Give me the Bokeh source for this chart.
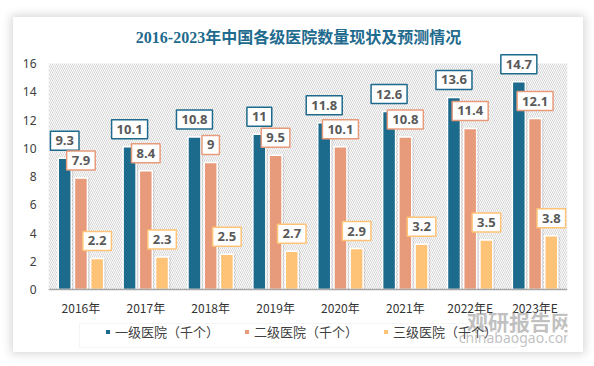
from bokeh.plotting import figure
from bokeh.layouts import column, row
from bokeh.models import (ColumnDataSource, FactorRange, Range1d, FixedTicker, Legend,
                          LegendItem, BoxAnnotation, Label, Span, Spacer)
from bokeh.transform import dodge
from bokeh.core.properties import value
from bokeh.embed import file_html
from bokeh.resources import INLINE

years = ["2016年", "2017年", "2018年", "2019年", "2020年", "2021年", "2022年E", "2023年E"]
lvl1 = [9.3, 10.1, 10.8, 11, 11.8, 12.6, 13.6, 14.7]
lvl2 = [7.9, 8.4, 9, 9.5, 10.1, 10.8, 11.4, 12.1]
lvl3 = [2.2, 2.3, 2.5, 2.7, 2.9, 3.2, 3.5, 3.8]
series_names = ["一级医院（千个）", "二级医院（千个）", "三级医院（千个）"]
colors = ["#1C6A8C", "#E79B7B", "#FFC377"]
title_text = "2016-2023年中国各级医院数量现状及预测情况"
y_ticks = [0, 2, 4, 6, 8, 10, 12, 14, 16]

src = ColumnDataSource(dict(
    year=years, l1=lvl1, l2=lvl2, l3=lvl3,
    t1=[f"{v:g}" for v in lvl1], t2=[f"{v:g}" for v in lvl2], t3=[f"{v:g}" for v in lvl3],
))

# frame covers the whole card height; y=0 sits 63px above the card bottom
p = figure(x_range=FactorRange(factors=years, range_padding=0),
           y_range=Range1d(-4.460, 19.257),
           frame_width=519, frame_height=335, x_axis_location=None,
           min_border_left=35, min_border_right=16, min_border_top=0, min_border_bottom=0,
           output_backend="svg", toolbar_location=None, tools="")
p.styles = {"box-shadow": "0 0 9px 2px rgba(0,0,0,0.16)"}
p.outline_line_color = None
p.background_fill_color = "white"
p.border_fill_color = "white"
p.xgrid.visible = False
p.ygrid.visible = False

hatch = BoxAnnotation(bottom=0, top=16, fill_alpha=0, line_alpha=0, hatch_pattern="\\",
                      hatch_color="#d4d4d4", hatch_scale=4, hatch_weight=1, level="underlay")
p.add_layout(hatch)

offs = [-0.25, 0.0, 0.25]
cols = ["l1", "l2", "l3"]
tcols = ["t1", "t2", "t3"]
renderers = []
for off, c, col in zip(offs, cols, colors):
    p.vbar(x=dodge("year", off + 0.03, range=p.x_range), top=c, width=0.2, source=src,
           fill_color="#000000", fill_alpha=0.10, line_color=None)
    r = p.vbar(x=dodge("year", off, range=p.x_range), top=c, width=0.2, source=src,
               fill_color=col, line_color="white", line_width=1.5)
    renderers.append(r)

p.add_layout(Span(location=0, dimension="width", line_color="#a6a6a6", line_width=1.5))

for off, c, t, col in zip(offs, cols, tcols, colors):
    p.text(x=dodge("year", off, range=p.x_range), y=c, text=t, source=src,
           text_font=value("Open Sans"), text_font_style="bold", text_font_size="13px",
           text_color="#595959", text_align="center", text_baseline="bottom",
           y_offset=-8, background_fill_color="white", border_line_color=col,
           border_line_width=1.5, padding=5)

# category labels under the baseline
p.text(x="year", y=0, text="year", source=src, text_font=value("Noto Sans CJK SC"),
       text_font_size="12px", text_color="#333333", text_align="center",
       text_baseline="middle", y_offset=18)

p.yaxis.ticker = FixedTicker(ticks=y_ticks)
p.yaxis.axis_line_color = None
p.yaxis.major_tick_line_color = None
p.yaxis.minor_tick_line_color = None
p.yaxis.major_tick_out = 0
p.yaxis.major_tick_in = 0
p.yaxis.major_label_text_font = "Noto Sans"
p.yaxis.major_label_text_font_size = "12px"
p.yaxis.major_label_text_color = "#404040"
p.yaxis.major_label_standoff = 12

title = Label(x=250, y=315, x_units="screen", y_units="screen", text=title_text,
              text_font="Liberation Serif, Noto Sans CJK SC", text_font_style="bold",
              text_font_size="16px", text_color="#1F6B8E", text_align="center",
              text_baseline="middle")
p.add_layout(title)

legend_box = BoxAnnotation(left=31, right=468, bottom=5, top=29,
                           left_units="screen", right_units="screen",
                           bottom_units="screen", top_units="screen",
                           fill_color="white", fill_alpha=1.0,
                           line_color="#d9d9d9", line_width=1)
p.add_layout(legend_box)

legend = Legend(items=[LegendItem(label=n, renderers=[r]) for n, r in zip(series_names, renderers)],
                orientation="horizontal", location=(56, 11),
                label_text_font="Noto Sans CJK SC", label_text_font_size="13px",
                label_text_color="#404040", glyph_width=7, glyph_height=7,
                label_standoff=4, spacing=24, padding=0, margin=0,
                border_line_color=None, background_fill_color=None, background_fill_alpha=0,
                label_height=14)
p.add_layout(legend, "center")

wm1 = Label(x=471, y=32, x_units="screen", y_units="screen", text="观研报告网",
            text_font="Noto Sans CJK SC", text_font_style="bold", text_font_size="21px",
            text_color="#8c8c8c", text_alpha=0.55, text_align="center", text_baseline="middle")
wm2 = Label(x=469, y=15, x_units="screen", y_units="screen", text="chinabaogao.com",
            text_font="Noto Sans", text_font_size="14px",
            text_color="#8c8c8c", text_alpha=0.55, text_align="center", text_baseline="middle")
p.add_layout(wm1)
p.add_layout(wm2)

# the page template has no body margin: place the card at (13, 17)
layout = column(Spacer(height=17), row(Spacer(width=13), p))

open("out.html", "w").write(file_html(layout, INLINE))
